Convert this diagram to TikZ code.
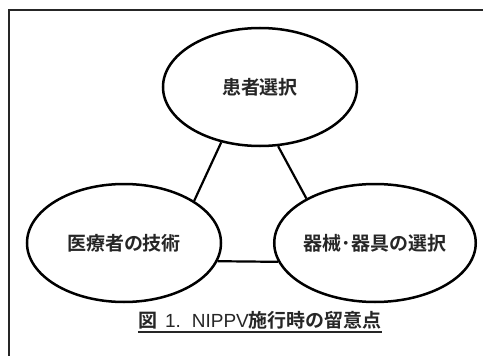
\documentclass[tikz,border=0pt]{standalone}
\usepackage{fontspec}
\newfontfamily\jp{Noto Sans CJK JP Bold}
\newfontfamily\lat{Liberation Sans}
\usetikzlibrary{shapes.geometric}
\begin{document}
\begin{tikzpicture}[x=1pt,y=-1pt,
  oval/.style={ellipse,draw=black,line width=2.5pt,minimum width=194pt,minimum height=118pt,inner sep=0pt,
    font=\jp\fontsize{19pt}{22pt}\selectfont,text=black!85},
  link/.style={draw=black,line width=2.2pt},
  frame/.style={draw=black!85,line width=1.4pt}]
\useasboundingbox (0,0) rectangle (483,356);
\clip (0,0) rectangle (483,356);
\draw[frame] (9,10) rectangle (500,380);
\node[oval] (top) at (260,87) {患者選択};
\node[oval] (left) at (124,243) {医療者の技術};
\node[oval] (right) at (375,243) {器械･器具の選択};
\draw[link] (top.235.8) -- (left.31.6);
\draw[link] (top.287.6) -- (right.147.7);
\draw[link] (left.-11.5) -- (right.191.7);
\node[font=\jp\fontsize{19pt}{22pt}\selectfont,text=black!85,inner sep=0pt,anchor=base] (cap) at (260,327) {図\hspace{8pt}{\lat 1.}\hspace{11pt}{\lat NIPPV}施行時の留意点};
\draw[line width=1.8pt,black!85] ([yshift=-5pt]cap.base west) -- ([yshift=-5pt]cap.base east);
\end{tikzpicture}
\end{document}
